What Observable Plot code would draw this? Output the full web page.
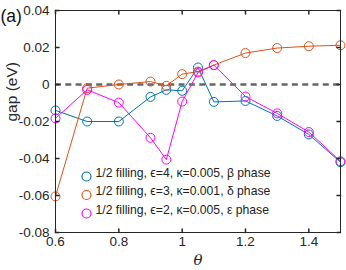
<!DOCTYPE html>
<html>
<head>
<meta charset="utf-8">
<script src="https://cdn.jsdelivr.net/npm/d3@7"></script>
<script src="https://cdn.jsdelivr.net/npm/@observablehq/plot@0.6"></script>
<style>
  html, body { margin: 0; padding: 0; background: #fff; }
  #chart { position: relative; width: 346px; height: 270px; }
</style>
</head>
<body>
<div id="chart"></div>
<script>
const theta = [0.6, 0.7, 0.8, 0.9, 0.95, 1.0, 1.05, 1.1, 1.2, 1.3, 1.4, 1.5];
const betaGap = [-0.0140, -0.0200, -0.0200, -0.0067, -0.0029, -0.0034, 0.0092, -0.0094, -0.0089, -0.0170, -0.0270, -0.0420];
const deltaGap = [-0.0605, -0.0020, 0.0000, 0.0016, -0.0007, 0.0056, 0.0070, 0.0105, 0.0170, 0.0197, 0.0207, 0.0212];
const epsGap = [-0.0183, -0.0029, -0.0098, -0.0288, -0.0406, -0.0092, 0.0065, 0.0105, -0.0065, -0.0156, -0.0257, -0.0415];
const seriesNames = [
  "1/2 filling, ϵ=4, κ=0.005, β phase",
  "1/2 filling, ϵ=3, κ=0.001, δ phase",
  "1/2 filling, ϵ=2, κ=0.005, ε phase"
];
const seriesColors = ["#0072BD", "#D95319", "#FF00FF"];
const xTicks = [0.6, 0.8, 1.0, 1.2, 1.4];
const yTicks = [-0.08, -0.06, -0.04, -0.02, 0, 0.02, 0.04];
const xTickLabels = ["0.6", "0.8", "1", "1.2", "1.4"];
const yTickLabels = ["-0.08", "-0.06", "-0.04", "-0.02", "0", "0.02", "0.04"];

const seriesValues = [betaGap, deltaGap, epsGap];
const rows = [];
seriesValues.forEach((vals, s) => vals.forEach((v, i) => rows.push({series: s, theta: theta[i], gap: v})));

const tickShape = {draw(ctx, l) { ctx.moveTo(0, 0); ctx.lineTo(0, -l); }};
const axisColor = "#262626";
const font = "'Liberation Sans', Arial, Helvetica, sans-serif";

const marks = [
  Plot.ruleY([0], {stroke: "#666666", strokeWidth: 2.6, strokeDasharray: "6,4.3"}),
];
seriesValues.forEach((vals, s) => {
  const data = rows.filter(d => d.series === s);
  marks.push(Plot.line(data, {x: "theta", y: "gap", stroke: seriesColors[s], strokeWidth: 1}));
  marks.push(Plot.dot(data, {x: "theta", y: "gap", r: 4.5, stroke: seriesColors[s], strokeWidth: 1, fill: "none"}));
});
// legend
seriesNames.forEach((name, s) => {
  const dy = -56 + s * 18.5;
  marks.push(Plot.dot([name], {frameAnchor: "bottom-left", dx: 31, dy, r: 4.5, stroke: seriesColors[s], strokeWidth: 1.2, fill: "none"}));
  marks.push(Plot.text([name], {frameAnchor: "bottom-left", dx: 40, dy, text: d => d, textAnchor: "start", fontSize: 12.2, fill: "#222"}));
});
marks.push(
  Plot.frame({stroke: axisColor, strokeWidth: 1}),
  Plot.vector(xTicks, {x: d => d, frameAnchor: "bottom", length: 3.5, rotate: 0, anchor: "start", shape: tickShape, stroke: axisColor}),
  Plot.vector(xTicks, {x: d => d, frameAnchor: "top", length: 3.5, rotate: 180, anchor: "start", shape: tickShape, stroke: axisColor}),
  Plot.vector(yTicks, {y: d => d, frameAnchor: "left", length: 3.5, rotate: 90, anchor: "start", shape: tickShape, stroke: axisColor}),
  Plot.vector(yTicks, {y: d => d, frameAnchor: "right", length: 3.5, rotate: -90, anchor: "start", shape: tickShape, stroke: axisColor}),
  Plot.axisX(xTicks, {tickSize: 0, tickPadding: 4, tickFormat: (d, i) => xTickLabels[i], fontSize: 13.5, fill: "#262626", label: null}),
  Plot.axisY(yTicks, {tickSize: 0, tickPadding: 6, tickFormat: (d, i) => yTickLabels[i], fontSize: 13.5, fill: "#262626", label: null}),
  Plot.text(["gap (eV)"], {frameAnchor: "left", dx: -43, rotate: -90, text: d => d, fontSize: 15.5, fill: "#262626"}),
  Plot.text(["θ"], {frameAnchor: "bottom", dy: 32, text: d => d, fontSize: 15, fontStyle: "italic", fontFamily: "'DejaVu Serif', 'Liberation Serif', serif", fill: "#262626"}),
  Plot.text(["(a)"], {frameAnchor: "top-left", dx: -55, dy: -1, text: d => d, textAnchor: "start", fontSize: 17.5, fill: "#111"})
);

const chart = Plot.plot({
  width: 346,
  height: 270,
  marginLeft: 55,
  marginRight: 6,
  marginTop: 10,
  marginBottom: 38,
  style: {fontFamily: font, fontSize: "13.5px", background: "#fff", overflow: "visible"},
  x: {domain: [0.6, 1.5]},
  y: {domain: [-0.08, 0.04]},
  marks
});
document.getElementById("chart").appendChild(chart);
</script>
</body>
</html>
